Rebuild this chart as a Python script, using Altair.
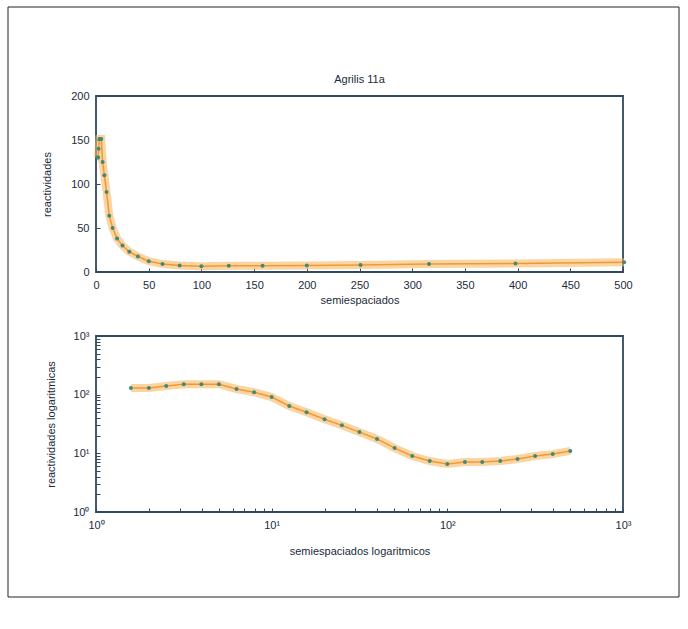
import altair as alt
import pandas as pd

# semiespaciados (log-spaced) and reactividades
semiespaciados = [1.58, 2.0, 2.51, 3.16, 3.98, 5.01, 6.31, 7.94, 10.0, 12.6, 15.8, 20.0, 25.1,
                  31.6, 39.8, 50.1, 63.1, 79.4, 100.0, 126.0, 158.0, 200.0, 251.0, 316.0, 398.0, 501.0]
reactividades = [130, 130, 140, 151, 151, 151, 125, 110, 91, 64, 50, 38, 30,
                 23, 17.6, 12.3, 9.0, 7.4, 6.6, 7.1, 7.1, 7.4, 8.0, 9.0, 9.7, 11.0]

lin_x_ticks = [0, 50, 100, 150, 200, 250, 300, 350, 400, 450, 500]
lin_y_ticks = [0, 50, 100, 150, 200]
log_ticks = [1, 2, 3, 4, 5, 6, 7, 8, 9, 10, 20, 30, 40, 50, 60, 70, 80, 90,
             100, 200, 300, 400, 500, 600, 700, 800, 900, 1000]

df = pd.DataFrame({"x": semiespaciados, "y": reactividades})
one = pd.DataFrame({"a": [0]})

AX = "#2e4a5c"
TXT = "#1c2b3a"
GLOW = "#f7b865"
CORE = "#f29a2e"
DOT = "#3f8a78"

log_label = ("datum.value == 1 ? '10⁰' : datum.value == 10 ? '10¹' : "
             "datum.value == 100 ? '10²' : datum.value == 1000 ? '10³' : ''")


def ax(title, values, label_expr=None, pad_title=4):
    kw = dict(title=title, values=values, offset=-4, tickSize=4, domain=False,
              tickColor=AX, labelColor=TXT, titleColor=TXT, labelFontSize=11,
              titleFontSize=11, titleFontWeight="normal", labelPadding=7,
              labelFlush=False, labelOverlap=False, grid=False, titlePadding=pad_title)
    if label_expr:
        kw["labelExpr"] = label_expr
    return alt.Axis(**kw)


W, H = 527, 176

# ---------- top panel ----------
xt = alt.X("x:Q", scale=alt.Scale(domain=[0, 500], nice=False, zero=False),
           axis=ax("semiespaciados", lin_x_ticks))
yt = alt.Y("y:Q", scale=alt.Scale(domain=[0, 200], nice=False),
           axis=ax("reactividades", lin_y_ticks, pad_title=18))

top_base = alt.Chart(df)
top = alt.layer(
    top_base.mark_line(color=GLOW, strokeWidth=8, opacity=0.6).encode(x=xt, y=yt),
    top_base.mark_line(color=CORE, strokeWidth=1.5).encode(x="x:Q", y="y:Q"),
    top_base.mark_circle(color=DOT, size=16, opacity=1).encode(x="x:Q", y="y:Q"),
).properties(width=W, height=H,
             title=alt.TitleParams("Agrilis 11a", fontSize=11, fontWeight="normal",
                                   color=TXT, offset=5))

# ---------- bottom panel ----------
xb = alt.X("x:Q", scale=alt.Scale(type="log", domain=[1, 1000], nice=False),
           axis=ax("semiespaciados logaritmicos", log_ticks, log_label, pad_title=15))
yb = alt.Y("y:Q", scale=alt.Scale(type="log", domain=[1, 1000], nice=False),
           axis=ax("reactividades logaritmicas", log_ticks, log_label, pad_title=16))

bot_base = alt.Chart(df)
bottom = alt.layer(
    bot_base.mark_line(color=GLOW, strokeWidth=8, opacity=0.6).encode(x=xb, y=yb),
    bot_base.mark_line(color=CORE, strokeWidth=1.5).encode(x="x:Q", y="y:Q"),
    bot_base.mark_circle(color=DOT, size=16, opacity=1).encode(x="x:Q", y="y:Q"),
    # outer frame around the whole figure
    alt.Chart(one).mark_rect(filled=False, stroke="#222222", strokeWidth=1).encode(
        x=alt.value(-88), x2=alt.value(583), y=alt.value(-329), y2=alt.value(261)),
).properties(width=W, height=H)

chart = alt.vconcat(top, bottom, spacing=64, bounds="flush").properties(
    padding={"left": 6, "top": 5, "right": 6, "bottom": 6},
    background="white",
).configure(font="Liberation Sans").configure_view(stroke=AX, strokeWidth=1.8)

chart.save("out.html", embed_options={"renderer": "svg", "actions": False})
